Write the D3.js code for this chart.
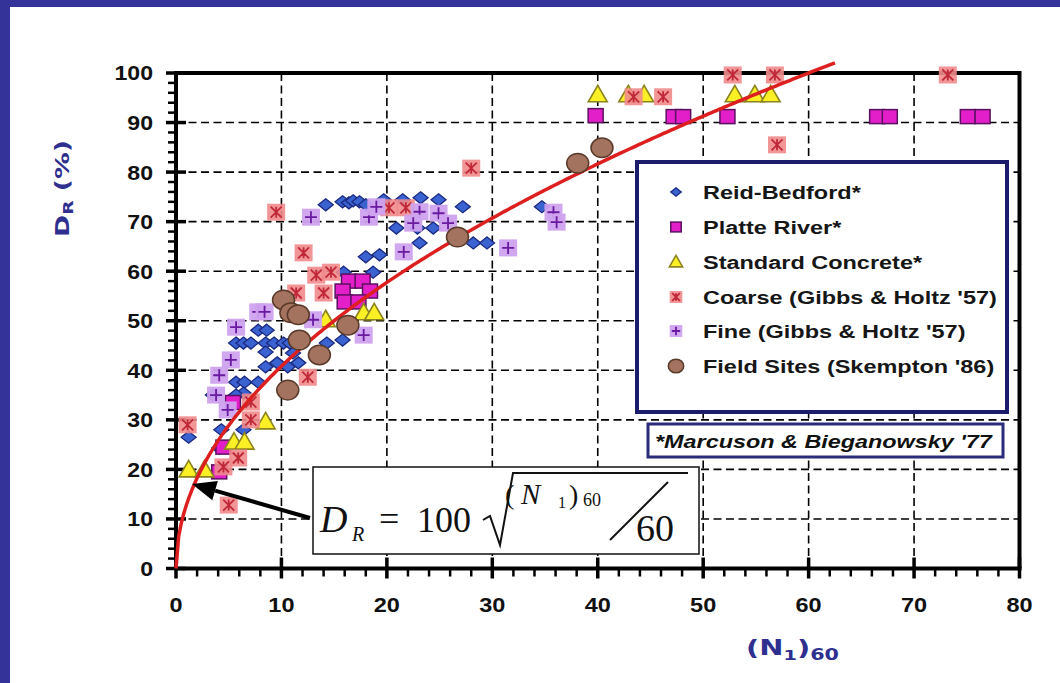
<!DOCTYPE html>
<html>
<head>
<meta charset="utf-8">
<script src="https://cdn.jsdelivr.net/npm/d3@7"></script>
<style>
  html, body { margin: 0; padding: 0; background: #fff; overflow: hidden; width: 1060px; height: 683px; }
  svg { display: block; position: absolute; left: 0; top: 0; }
</style>
</head>
<body>
<svg id="chart" width="1060" height="683" viewBox="0 0 1060 683"></svg>
<script>
// Relative density vs. corrected SPT blow count, (N1)60
const xTicks = [0, 10, 20, 30, 40, 50, 60, 70, 80];
const yTicks = [0, 10, 20, 30, 40, 50, 60, 70, 80, 90, 100];

// [ (N1)60 , DR % ]
const reidBedford = [
  [14.2,73.4],[15.8,74.0],[16.4,73.8],[16.8,74.2],[17.4,74.0],[18.0,73.4],[19.7,74.4],[21.5,74.4],
  [23.2,74.8],[24.9,74.4],[27.2,73.0],[34.7,73.0],[20.9,68.7],[22.9,68.7],[24.4,68.7],[23.1,65.7],
  [28.2,65.7],[29.5,65.7],[18.0,62.9],[19.3,63.3],[18.7,59.8],[15.9,59.8],[14.3,45.5],[15.8,46.1],
  [7.8,48.1],[8.6,48.1],[5.7,45.5],[6.4,45.5],[7.1,45.5],[8.5,45.5],[9.3,45.5],[10.2,45.5],
  [10.8,45.5],[8.5,43.7],[11.1,43.5],[8.5,40.7],[9.6,41.5],[10.6,40.7],[11.6,41.5],[5.7,37.6],
  [6.5,37.6],[7.8,37.6],[6.4,35.4],[5.7,35.0],[3.5,35.0],[4.3,28.0],[6.4,28.0],[1.2,26.5],[4.1,24.3]
];
const platteRiver = [
  [16.4,58.0],[17.7,58.0],[15.8,56.0],[18.4,56.0],[16.0,53.8],[17.3,53.8],[39.8,91.4],[47.2,91.2],
  [48.1,91.2],[52.3,91.2],[66.5,91.2],[67.7,91.2],[75.1,91.2],[76.5,91.2],[5.4,33.5],[4.5,24.5],[4.1,19.5]
];
const standardConcrete = [
  [40.0,95.6],[42.9,95.6],[44.4,95.6],[53.0,95.6],[54.9,95.6],[56.4,95.6],[14.2,50.2],[17.8,51.6],
  [18.8,51.6],[8.5,29.6],[5.5,25.5],[6.5,25.5],[1.2,19.9],[2.7,19.9]
];
const coarseGH = [
  [52.8,99.6],[56.8,99.6],[73.2,99.6],[43.4,95.2],[46.2,95.2],[57.0,85.5],[28.0,80.8],[9.5,71.9],
  [20.2,72.8],[21.8,72.8],[12.1,63.7],[13.3,59.2],[14.7,59.8],[11.4,55.6],[14.0,55.6],[12.5,38.6],
  [7.1,33.6],[7.1,30.0],[1.1,29.0],[5.9,22.3],[4.5,20.5],[5.0,12.8]
];
const fineGH = [
  [12.8,70.9],[18.3,70.9],[19.0,73.0],[23.1,72.0],[22.5,69.7],[24.9,71.7],[25.8,69.7],[21.6,63.9],
  [31.5,64.7],[35.8,71.9],[36.1,69.9],[7.8,51.8],[8.4,51.8],[5.7,48.7],[13.0,50.2],[17.8,47.1],
  [5.2,42.1],[4.1,39.0],[3.8,35.0],[4.9,32.0]
];
const fieldSites = [
  [10.2,54.2],[10.9,51.6],[11.6,51.2],[11.7,46.1],[13.6,43.1],[16.3,49.1],[10.6,36.0],[26.7,66.9],
  [38.1,81.8],[40.4,84.9]
];
const legendLabels = [
  "Reid-Bedford*", "Platte River*", "Standard Concrete*",
  "Coarse (Gibbs & Holtz '57)", "Fine (Gibbs & Holtz '57)", "Field Sites (Skempton '86)"
];
const footnote = "*Marcuson & Bieganowsky '77";

const svg = d3.select("#chart");
const x = d3.scaleLinear().domain([0, 80]).range([176, 1019.5]);
const y = d3.scaleLinear().domain([0, 100]).range([568.5, 73]);
const navy = "#2e2f8f";
const sans = "Liberation Sans, Arial, sans-serif";

// page background and slide frame
svg.append("rect").attr("width", 1060).attr("height", 683).attr("fill", "#fff");
svg.append("rect").attr("x", 0).attr("y", 0).attr("width", 1060).attr("height", 7).attr("fill", "#333399");
svg.append("rect").attr("x", 0).attr("y", 0).attr("width", 10).attr("height", 683).attr("fill", "#333399");

// stretch a text node horizontally so it spans the given width
function stretchTo(sel, width) {
  const w = sel.node().getComputedTextLength();
  const ax = +sel.attr("x") || 0, ay = +sel.attr("y") || 0;
  sel.attr("transform", `translate(${ax},${ay}) scale(${width / w},1) translate(${-ax},${-ay})`);
}

// dashed grid
const grid = svg.append("g").attr("stroke", "#000").attr("stroke-width", 1.6).attr("stroke-dasharray", "8,4.5");
grid.selectAll("line.gx").data(xTicks.filter(d => d > 0 && d < 80)).join("line")
  .attr("x1", d => x(d)).attr("x2", d => x(d)).attr("y1", y(0)).attr("y2", y(100));
grid.selectAll("line.gy").data(yTicks.filter(d => d > 0 && d < 100)).join("line")
  .attr("y1", d => y(d)).attr("y2", d => y(d)).attr("x1", x(0)).attr("x2", x(80));

// plot frame
svg.append("path").attr("d", `M${x(0)},${y(100)}H${x(80)}V${y(0)}`)
  .attr("fill", "none").attr("stroke", "#000").attr("stroke-width", 4);

// axes
const xAxis = svg.append("g");
xAxis.append("line").attr("x1", x(0) - 2).attr("x2", x(80) + 2).attr("y1", y(0)).attr("y2", y(0))
  .attr("stroke", "#000").attr("stroke-width", 4);
xAxis.selectAll("line.minor").data(d3.range(0, 81, 2)).join("line")
  .attr("x1", d => x(d)).attr("x2", d => x(d))
  .attr("y1", d => d % 10 === 0 ? y(0) - 11 : y(0)).attr("y2", d => d % 10 === 0 ? y(0) + 10 : y(0) + 8)
  .attr("stroke", "#000").attr("stroke-width", d => d % 10 === 0 ? 3.5 : 2.5);
xAxis.selectAll("text").data(xTicks).join("text")
  .attr("x", d => x(d)).attr("y", 612).attr("text-anchor", "middle")
  .attr("font-family", sans).attr("font-weight", "bold")
  .attr("font-size", 21).attr("fill", "#111").text(d => d)
  .attr("transform", d => `translate(${x(d)},0) scale(1.12,1) translate(${-x(d)},0)`);

const yAxis = svg.append("g");
yAxis.append("line").attr("x1", x(0)).attr("x2", x(0)).attr("y1", y(100) - 2).attr("y2", y(0) + 2)
  .attr("stroke", "#000").attr("stroke-width", 4);
yAxis.selectAll("line.minor").data(d3.range(0, 101, 2)).join("line")
  .attr("y1", d => y(d)).attr("y2", d => y(d))
  .attr("x1", d => d % 10 === 0 ? x(0) - 10 : x(0) - 8).attr("x2", d => d % 10 === 0 ? x(0) + 10 : x(0))
  .attr("stroke", "#000").attr("stroke-width", d => d % 10 === 0 ? 3.5 : 2.5);
yAxis.selectAll("text").data(yTicks).join("text")
  .attr("x", 153).attr("y", d => y(d) + 7.5).attr("text-anchor", "end")
  .attr("font-family", sans).attr("font-weight", "bold")
  .attr("font-size", 21).attr("fill", "#111").text(d => d)
  .attr("transform", "translate(153,0) scale(1.1,1) translate(-153,0)");

// axis titles
const yt = svg.append("text").attr("x", 0).attr("y", 0)
  .attr("font-family", "DejaVu Sans, Verdana, sans-serif").attr("font-weight", "bold")
  .attr("font-size", 20).attr("fill", navy);
yt.append("tspan").text("D");
yt.append("tspan").attr("font-size", 14).attr("dy", 4).text("R");
yt.append("tspan").attr("dy", -4).text(" (%)");
{
  const w = yt.node().getComputedTextLength();
  yt.attr("transform", `translate(69,237) rotate(-90) scale(${97 / w},1)`);
}

const xt = svg.append("text").attr("x", 0).attr("y", 0)
  .attr("font-family", "DejaVu Sans, Verdana, sans-serif").attr("font-weight", "bold")
  .attr("font-size", 21).attr("fill", navy);
xt.append("tspan").text("(N");
xt.append("tspan").attr("font-size", 14).attr("dy", 5).text("1");
xt.append("tspan").attr("dy", -5).text(")");
xt.append("tspan").attr("font-size", 15).attr("dy", 5).text("60");
{
  const w = xt.node().getComputedTextLength();
  xt.attr("transform", `translate(746,655) scale(${93 / w},1)`);
}

// marker painters
const markers = {
  diamond: (g, s) => g.append("path").attr("d", `M0,${-6*s}L${7.5*s},0L0,${6*s}L${-7.5*s},0Z`)
    .attr("fill", "#3a62d0").attr("stroke", "#1b2a80").attr("stroke-width", 1.3),
  square: (g, s) => g.append("rect").attr("x", -7.5*s).attr("y", -7*s).attr("width", 15*s).attr("height", 14*s)
    .attr("fill", "#e21fc8").attr("stroke", "#5b1060").attr("stroke-width", 1.5),
  triangle: (g, s) => g.append("path").attr("d", `M0,${-9.5*s}L${9.5*s},${7*s}L${-9.5*s},${7*s}Z`)
    .attr("fill", "#fbef25").attr("stroke", "#8c8420").attr("stroke-width", 1.6),
  coarse: (g, s) => {
    g.append("rect").attr("x", -9*s).attr("y", -8.5*s).attr("width", 18*s).attr("height", 17*s)
      .attr("fill", "#ef8a8c").attr("opacity", 0.9);
    const a = 5.5*s;
    g.append("path").attr("d", `M${-a},${-a}L${a},${a}M${-a},${a}L${a},${-a}M0,${-a}V${a}`)
      .attr("stroke", "#c02838").attr("stroke-width", 1.8);
  },
  fine: (g, s) => {
    g.append("rect").attr("x", -9*s).attr("y", -8.5*s).attr("width", 18*s).attr("height", 17*s)
      .attr("fill", "#cfa2ee").attr("opacity", 0.95);
    const a = 6*s;
    g.append("path").attr("d", `M${-a},0H${a}M0,${-a}V${a}`)
      .attr("stroke", "#6a1aa0").attr("stroke-width", 1.8);
  },
  circle: (g, s) => g.append("ellipse").attr("rx", 11*s).attr("ry", 9.8*s)
    .attr("fill", "#a3735f").attr("stroke", "#5a3a2a").attr("stroke-width", 1.5)
};

function plotSeries(data, kind) {
  const g = svg.append("g");
  data.forEach(([n, d]) => {
    const m = g.append("g").attr("transform", `translate(${x(n)},${y(d)})`);
    markers[kind](m, 1);
  });
}

plotSeries(reidBedford, "diamond");
plotSeries(platteRiver, "square");
plotSeries(standardConcrete, "triangle");
plotSeries(coarseGH, "coarse");
plotSeries(fineGH, "fine");

// DR = 100 * sqrt((N1)60 / 60)
const curveN = d3.range(0, 62.51, 0.25);
svg.append("path")
  .attr("d", d3.line().x(n => x(n)).y(n => y(100 * Math.sqrt(n / 60)))(curveN))
  .attr("fill", "none").attr("stroke", "#dd1f1f").attr("stroke-width", 3.5);

plotSeries(fieldSites, "circle");

// legend
svg.append("rect").attr("x", 637).attr("y", 162).attr("width", 370).attr("height", 250)
  .attr("fill", "#fff").attr("stroke", "#1c1c6c").attr("stroke-width", 4);
const kinds = ["diamond", "square", "triangle", "coarse", "fine", "circle"];
const legendRows = [192, 227, 262, 297, 331, 366];
kinds.forEach((k, i) => {
  const m = svg.append("g").attr("transform", `translate(676,${legendRows[i]})`);
  markers[k](m, 0.7);
  const t = svg.append("text").attr("x", 703).attr("y", legendRows[i] + 7)
    .attr("font-family", sans).attr("font-weight", "bold")
    .attr("font-size", 18.5).attr("fill", "#161616").text(legendLabels[i]);
  t.attr("transform", "translate(703,0) scale(1.27,1) translate(-703,0)");
});

// reference note
svg.append("rect").attr("x", 648).attr("y", 424).attr("width", 355).attr("height", 33)
  .attr("fill", "#fff").attr("stroke", "#2b2b7b").attr("stroke-width", 3);
const fn = svg.append("text").attr("x", 655).attr("y", 448)
  .attr("font-family", sans).attr("font-weight", "bold").attr("font-style", "italic")
  .attr("font-size", 18.5).attr("fill", "#111").text(footnote);
stretchTo(fn, 337);

// equation box
svg.append("rect").attr("x", 313).attr("y", 467).attr("width", 386).attr("height", 87)
  .attr("fill", "#fff").attr("stroke", "#111").attr("stroke-width", 1.5);
const serif = "Liberation Serif, Times New Roman, serif";
const eq = svg.append("g").attr("font-family", serif).attr("fill", "#111");
eq.append("text").attr("x", 320).attr("y", 532).attr("font-size", 38).attr("font-style", "italic").text("D");
eq.append("text").attr("x", 352).attr("y", 541).attr("font-size", 20).attr("font-style", "italic").text("R");
eq.append("text").attr("x", 379).attr("y", 531).attr("font-size", 36).text("=");
eq.append("text").attr("x", 417).attr("y", 532).attr("font-size", 36).text("100");
eq.append("path").attr("d", "M483,520L490,516L500,545L513,473L688,473")
  .attr("fill", "none").attr("stroke", "#111").attr("stroke-width", 2);
eq.append("text").attr("x", 505).attr("y", 504).attr("font-size", 28).text("(");
eq.append("text").attr("x", 521).attr("y", 504).attr("font-size", 29).attr("font-style", "italic").text("N");
eq.append("text").attr("x", 558).attr("y", 508).attr("font-size", 16).text("1");
eq.append("text").attr("x", 569).attr("y", 504).attr("font-size", 28).text(")");
eq.append("text").attr("x", 583).attr("y", 506).attr("font-size", 18).text("60");
eq.append("path").attr("d", "M610,540L668,482").attr("stroke", "#111").attr("stroke-width", 2);
eq.append("text").attr("x", 636).attr("y", 541).attr("font-size", 38).text("60");

// arrow to the curve
const tail = [310, 518], tip = [192, 484];
const dx = tip[0] - tail[0], dy = tip[1] - tail[1], len = Math.hypot(dx, dy);
const ux = dx / len, uy = dy / len, hl = 24, hw = 10;
const bx = tip[0] - ux * hl, by = tip[1] - uy * hl;
svg.append("line").attr("x1", tail[0]).attr("y1", tail[1]).attr("x2", bx).attr("y2", by)
  .attr("stroke", "#000").attr("stroke-width", 4);
svg.append("path")
  .attr("d", `M${tip[0]},${tip[1]}L${bx - uy*hw},${by + ux*hw}L${bx + uy*hw},${by - ux*hw}Z`)
  .attr("fill", "#000");
</script>
</body>
</html>
